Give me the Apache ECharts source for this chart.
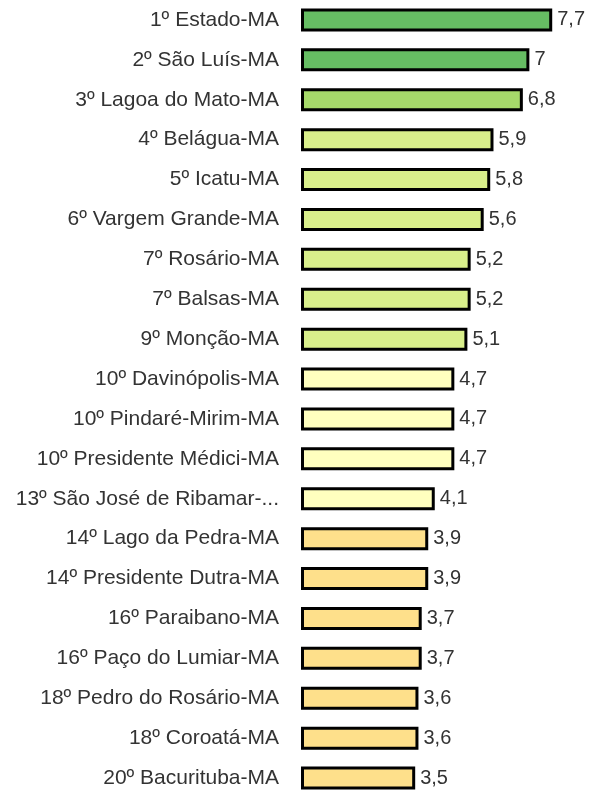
<!DOCTYPE html>
<html><head><meta charset="utf-8">
<script src="https://cdn.jsdelivr.net/npm/echarts@6/dist/echarts.min.js"></script>
<style>html,body{margin:0;padding:0;background:#fff}#c{width:589px;height:798px}</style>
</head><body><div id="c"></div>
<script>
const categories = ["1º Estado-MA","2º São Luís-MA","3º Lagoa do Mato-MA","4º Belágua-MA","5º Icatu-MA","6º Vargem Grande-MA","7º Rosário-MA","7º Balsas-MA","9º Monção-MA","10º Davinópolis-MA","10º Pindaré-Mirim-MA","10º Presidente Médici-MA","13º São José de Ribamar-...","14º Lago da Pedra-MA","14º Presidente Dutra-MA","16º Paraibano-MA","16º Paço do Lumiar-MA","18º Pedro do Rosário-MA","18º Coroatá-MA","20º Bacurituba-MA"];
const values = [7.7,7,6.8,5.9,5.8,5.6,5.2,5.2,5.1,4.7,4.7,4.7,4.1,3.9,3.9,3.7,3.7,3.6,3.6,3.5];
const colorGroups = [0,0,1,2,2,2,2,2,2,3,3,3,3,4,4,4,4,4,4,4];
const palette = ["#66bd63","#a6d96a","#d9ef8b","#ffffbf","#fee08b"];
const chart = echarts.init(document.getElementById('c'));
chart.setOption({
  animation:false,
  grid:{left:301,right:27,top:-1,bottom:-1,containLabel:false},
  xAxis:{type:'value',min:0,max:8,show:false},
  yAxis:{type:'category',data:categories,inverse:true,
    axisLine:{show:false},axisTick:{show:false},
    axisLabel:{color:'#333',fontSize:21,fontFamily:'Liberation Sans, Arial, sans-serif',margin:22}},
  series:[{type:'bar',barWidth:23,
    data:values.map((v,i)=>({value:v,itemStyle:{color:palette[colorGroups[i]]}})),
    itemStyle:{borderColor:'#000',borderWidth:3},
    label:{show:true,position:'right',distance:5,color:'#333',fontSize:20,
      fontFamily:'Liberation Sans, Arial, sans-serif',
      formatter:p=>String(p.value).replace('.',',')}}]
});
</script></body></html>
